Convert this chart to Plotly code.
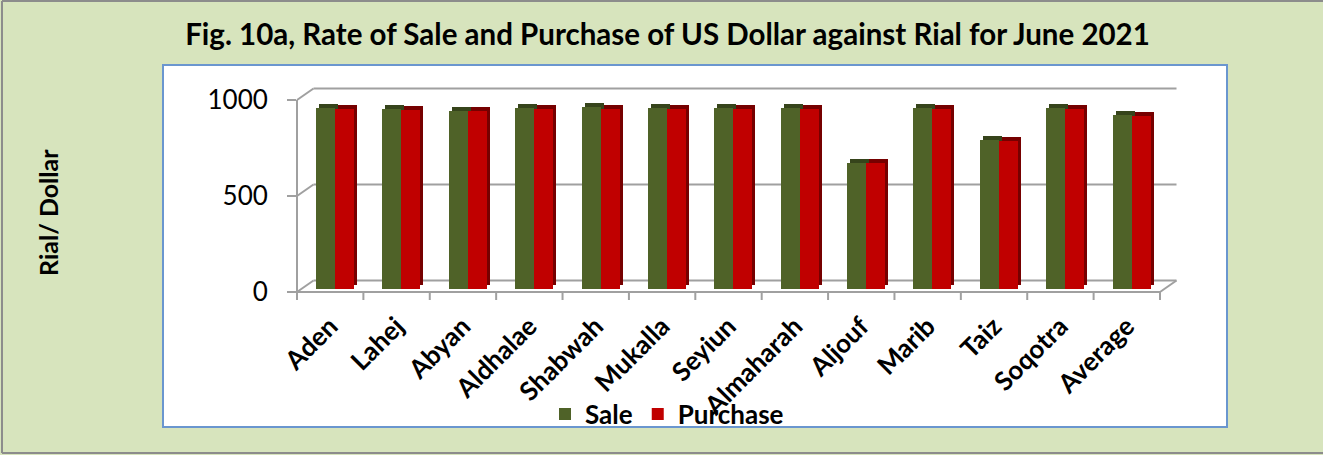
import plotly.graph_objects as go

# ---------------- data ----------------
categories = ["Aden", "Lahej", "Abyan", "Aldhalae", "Shabwah", "Mukalla", "Seyiun",
              "Almaharah", "Aljouf", "Marib", "Taiz", "Soqotra", "Average"]
sale = [941, 936, 929, 943, 949, 943, 941, 941, 656, 944, 774, 941, 906]
purchase = [936, 932, 926, 938, 939, 938, 936, 936, 658, 936, 771, 938, 899]
y_ticks = [0, 500, 1000]

title_text = "Fig. 10a, Rate of Sale and Purchase of US Dollar against Rial for June 2021"
y_title = "Rial/ Dollar"

# ---------------- geometry (pixels of the 1323x455 page) ----------------
W, H = 1323, 455
PL, PR, PT, PB = 297, 1178, 80, 292          # plot area in pixels
CAT_PX = (1160 - 297) / 13                    # pixels per category
VAL_PX = 192 / 1000                           # pixels per value unit
XMIN = -0.5
XMAX = XMIN + (PR - PL) / CAT_PX
YMAX = (PB - PT) / VAL_PX

DX = 16.5 / CAT_PX        # 3D depth shift (x units)
DY = 11.5 / VAL_PX        # 3D depth shift (y units)
BASE = 3 / VAL_PX         # bars sit a little inside the floor
BAR_W = 19 / CAT_PX
SALE_OFF = (316 - (297 + CAT_PX / 2)) / CAT_PX
PUR_OFF = SALE_OFF + BAR_W
SIDE_X = 3 / CAT_PX
SIDE_Y = 4 / VAL_PX

def px(xu):  # x units -> paper
    return (xu - XMIN) / (XMAX - XMIN)

def py(yu):  # y units -> paper
    return yu / YMAX

def ppx(p):  # page pixel -> paper
    return (p - PL) / (PR - PL)

def ppy(p):
    return (PB - p) / (PB - PT)

GREEN, GREEN_D = "#4F6228", "#36441B"
RED, RED_D = "#C00000", "#760000"
GRID = "#A0A0A0"
FONT = "Lato"

xs = list(range(len(categories)))
fig = go.Figure()

fig.add_trace(go.Bar(x=xs, y=sale, base=BASE + SIDE_Y, offset=SALE_OFF + SIDE_X, width=BAR_W,
                     marker=dict(color=GREEN_D, line=dict(width=0)), showlegend=False, hoverinfo="skip"))
fig.add_trace(go.Bar(x=xs, y=sale, base=BASE, offset=SALE_OFF, width=BAR_W, name="Sale",
                     marker=dict(color=GREEN, line=dict(width=0))))
fig.add_trace(go.Bar(x=xs, y=purchase, base=BASE + SIDE_Y, offset=PUR_OFF + SIDE_X, width=BAR_W,
                     marker=dict(color=RED_D, line=dict(width=0)), showlegend=False, hoverinfo="skip"))
fig.add_trace(go.Bar(x=xs, y=purchase, base=BASE, offset=PUR_OFF, width=BAR_W, name="Purchase",
                     marker=dict(color=RED, line=dict(width=0))))

shapes = []
# page border (left, top, bottom) & white chart box
BORDER = dict(color="#8C8C8C", width=2)
for (x0, y0, x1, y1) in [(2, 1, 2, 453), (2, 1, 1400, 1), (2, 453, 1400, 453)]:
    shapes.append(dict(type="line", xref="paper", yref="paper", layer="below",
                       x0=ppx(x0), x1=ppx(x1), y0=ppy(y0), y1=ppy(y1), line=BORDER))
shapes.append(dict(type="rect", xref="paper", yref="paper", layer="below",
                   x0=ppx(163), x1=ppx(1227), y0=ppy(427), y1=ppy(65),
                   line=dict(color="#6A96CF", width=2), fillcolor="white"))
# back-wall gridlines and left diagonals
for v in y_ticks:
    shapes.append(dict(type="line", xref="paper", yref="paper", layer="below",
                       x0=px(XMIN + DX), x1=px(len(categories) - 0.5 + DX),
                       y0=py(v + DY), y1=py(v + DY), line=dict(color=GRID, width=2)))
    shapes.append(dict(type="line", xref="paper", yref="paper", layer="below",
                       x0=px(XMIN), x1=px(XMIN + DX), y0=py(v), y1=py(v + DY),
                       line=dict(color=GRID, width=2)))
# front y axis line
shapes.append(dict(type="line", xref="paper", yref="paper", layer="below",
                   x0=px(XMIN), x1=px(XMIN), y0=py(0), y1=py(y_ticks[-1]),
                   line=dict(color=GRID, width=2)))
# floor front edge and right diagonal
shapes.append(dict(type="line", xref="paper", yref="paper", layer="below",
                   x0=px(XMIN), x1=px(len(categories) - 0.5), y0=py(0), y1=py(0),
                   line=dict(color=GRID, width=2)))
shapes.append(dict(type="line", xref="paper", yref="paper", layer="below",
                   x0=px(len(categories) - 0.5), x1=px(len(categories) - 0.5 + DX),
                   y0=py(0), y1=py(DY), line=dict(color=GRID, width=2)))
# category boundary tick marks
for k in range(len(categories) + 1):
    shapes.append(dict(type="line", xref="paper", yref="paper", layer="below",
                       x0=px(k - 0.5), x1=px(k - 0.5), y0=py(0), y1=ppy(PB + 8),
                       line=dict(color=GRID, width=2)))

fig.update_layout(
    width=W, height=H,
    margin=dict(l=PL, r=W - PR, t=PT, b=H - PB, pad=0),
    paper_bgcolor="#D7E4BD", plot_bgcolor="rgba(0,0,0,0)",
    barmode="overlay", bargap=0,
    font=dict(family=FONT, color="black"),
    title=dict(text="<b>" + title_text + "</b>", x=667.5 / W,
               xanchor="center", xref="container", y=1 - 35 / H, yanchor="middle", yref="container",
               font=dict(size=29.5, family=FONT, color="black")),
    xaxis=dict(range=[XMIN, XMAX], tickmode="array", tickvals=xs, ticktext=categories,
               tickangle=-45, ticks="", showgrid=False, zeroline=False, showline=False,
               tickfont=dict(size=26, family=FONT, color="black", weight="bold"),
               ticklabelstandoff=13),
    yaxis=dict(range=[0, YMAX], tickmode="array", tickvals=y_ticks, ticks="outside",
               ticklen=9, tickwidth=2, tickcolor=GRID, showgrid=False, zeroline=False,
               showline=False, tickfont=dict(size=26, family=FONT, color="black"),
               ticklabelstandoff=14),
    legend=dict(orientation="h", x=ppx(667), xanchor="center", y=ppy(414), yanchor="middle",
                font=dict(size=26, family=FONT, color="black", weight="bold"),
                bgcolor="rgba(0,0,0,0)", itemwidth=30, tracegroupgap=0),
    shapes=shapes,
    annotations=[dict(text="<b>" + y_title + "</b>", xref="paper", yref="paper",
                      x=ppx(48), y=ppy(212), textangle=-90, showarrow=False,
                      xanchor="center", yanchor="middle",
                      font=dict(size=25, family=FONT, color="black"))],
)

fig.write_html("out.html", config={"displayModeBar": False},
               post_script="document.body.style.margin='0';document.body.style.padding='0';"
                           "document.body.style.overflow='hidden';"
                           "document.documentElement.style.overflow='hidden';")
